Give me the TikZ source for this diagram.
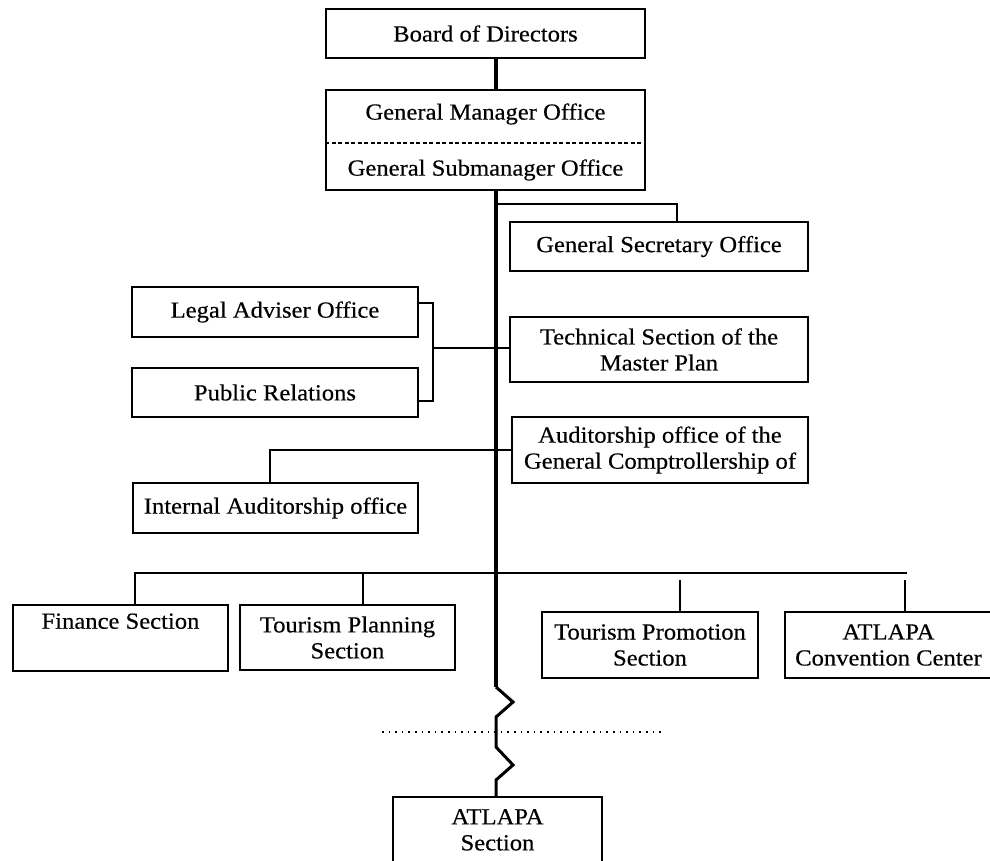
\documentclass[tikz,border=0pt]{standalone}
\usepackage{fontspec}
\setmainfont{Liberation Serif}[FakeStretch=1.07,FakeBold=0.4]
\begin{document}
\begin{tikzpicture}[x=1pt,y=-1pt,
  box/.style={draw, line width=1.7pt, rectangle, inner sep=0pt, align=center,
    font=\fontsize{23}{26}\selectfont},
  label/.style={inner sep=0pt, font=\fontsize{23}{26}\selectfont},
  link/.style={line width=1.8pt},
  trunk/.style={line width=3.6pt},
  breakline/.style={line width=3pt, line join=miter},
  dashline/.style={line width=1.3pt, dash pattern=on 4pt off 2.5pt},
  dotline/.style={line width=1.6pt, dash pattern=on 1.6pt off 5pt}]
\clip (0,0) rectangle (990,860);
\fill[white] (0,0) rectangle (990,860);

% offices at the top
\node[box, minimum width=319pt, minimum height=49pt] (board) at (485.5,33.5) {Board of Directors};
\node[box, minimum width=319pt, minimum height=100pt] (gm) at (485.5,140) {};
\node[label] (gmt) at (485.5,114) {General Manager Office};
\node[label] (gms) at (485.5,170) {General Submanager Office};
\draw[dashline] ([yshift=-3pt]gm.west) -- ([yshift=-3pt]gm.east);

% staff offices
\node[box, minimum width=298pt, minimum height=49pt] (gso) at (659,246.5) {General Secretary Office};
\node[box, minimum width=298pt, minimum height=65pt] (tech) at (659,349.5) {Technical Section of the\\Master Plan};
\node[box, minimum width=296pt, minimum height=66pt] (aud) at (660,450) {Auditorship office of the\\General Comptrollership of};
\node[box, minimum width=286pt, minimum height=50pt] (legal) at (275,312) {Legal Adviser Office};
\node[box, minimum width=286pt, minimum height=49pt] (pr) at (275,392.5) {Public Relations};
\node[box, minimum width=285pt, minimum height=50pt] (iao) at (275.5,508) {Internal Auditorship office};

% line sections
\node[box, minimum width=215pt, minimum height=66pt] (fin) at (120.5,638) {Finance Section\\\strut};
\node[box, minimum width=215pt, minimum height=65pt] (tp) at (347.5,637.5) {Tourism Planning\\Section};
\node[box, minimum width=216pt, minimum height=66pt] (tprom) at (650,645) {Tourism Promotion\\Section};
\node[box, minimum width=207pt, minimum height=66pt] (acc) at (888.5,645) {ATLAPA\\Convention Center};
\node[box, minimum width=209pt, minimum height=66pt, anchor=north] (atlapa) at (497.5,796) {ATLAPA\\Section};

% junction points
\coordinate (k1) at (496,687);
\coordinate (z1) at (513,702);
\coordinate (z2) at (496,717);
\coordinate (z3) at (496,747);
\coordinate (z4) at (513,765);
\coordinate (z5) at (496,780);
\coordinate (gsoj) at (677,204);
\coordinate (brT) at (433,303);
\coordinate (brM) at (433,348);
\coordinate (brB) at (433,401);
\coordinate (audj) at (270,450);
\coordinate (busL) at (135,573);
\coordinate (busTP) at (363,573);
\coordinate (busR) at (907,573);
\coordinate (dropP) at (680,580);
\coordinate (dropC) at (905,580);
\coordinate (dotL) at (382,732);
\coordinate (dotR) at (663,732);

% main line of authority
\draw[trunk] (board.south -| k1) -- (gm.north -| k1);
\draw[trunk] (gm.south -| k1) -- (k1);
\draw[breakline] (k1) -- (z1) -- (z2) -- (z3) -- (z4) -- (z5) -- (atlapa.north -| k1);
\draw[dotline] (dotL) -- (dotR);

% staff connections
\draw[link] (gsoj -| k1) -- (gsoj) -- (gso.north -| gsoj);
\draw[link] (legal.east |- brT) -- (brT) -- (brB) -- (pr.east |- brB);
\draw[link] (brM) -- (tech.west |- brM);
\draw[link] (aud.west |- audj) -- (audj) -- (iao.north -| audj);

% section bus
\draw[link] (fin.north -| busL) -- (busL) -- (busR);
\draw[link] (busTP) -- (tp.north -| busTP);
\draw[link] (dropP) -- (tprom.north -| dropP);
\draw[link] (dropC) -- (acc.north -| dropC);
\end{tikzpicture}
\end{document}
